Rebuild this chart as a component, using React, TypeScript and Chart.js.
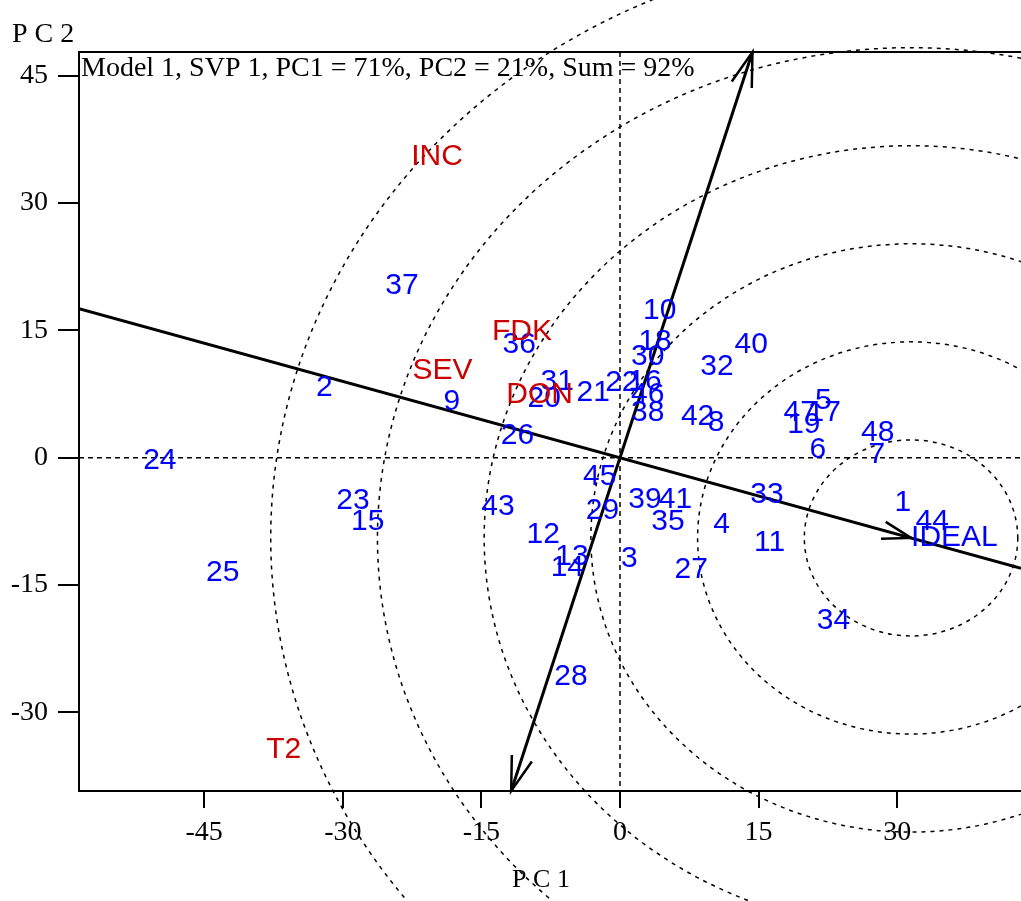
import React, { useEffect, useRef } from "react";
import { Chart, registerables } from "chart.js";

Chart.register(...registerables);

// ---- Data ----
const genotypeLabels = [
  "1", "2", "3", "4", "5", "6", "7", "8", "9", "10", "11", "12", "13", "14", "15", "16",
  "17", "18", "19", "20", "21", "22", "23", "24", "25", "26", "27", "28", "29", "30", "31", "32",
  "33", "34", "35", "36", "37", "38", "39", "40", "41", "42", "43", "44", "45", "46", "47", "48",
];
const genotypePC1 = [
  30.6, -32.0, 1.0, 11.0, 22.0, 21.4, 27.8, 10.4, -18.2, 4.3, 16.2, -8.3, -5.2, -5.7, -27.3, 2.7,
  22.1, 3.8, 19.9, -8.2, -2.9, 0.2, -28.9, -49.8, -43.0, -11.1, 7.7, -5.3, -1.9, 3.0, -6.8, 10.5,
  15.9, 23.1, 5.2, -10.9, -23.6, 3.0, 2.7, 14.2, 6.0, 8.4, -13.2, 33.8, -2.2, 3.0, 19.5, 27.9,
];
const genotypePC2 = [
  -5.3, 8.2, -11.9, -7.9, 6.7, 0.9, 0.3, 4.1, 6.6, 17.3, -10.0, -9.1, -11.7, -13.0, -7.6, 9.0,
  5.3, 13.7, 3.9, 7.0, 7.7, 8.8, -5.1, -0.3, -13.5, 2.6, -13.2, -25.8, -6.2, 11.9, 8.9, 10.7,
  -4.4, -19.2, -7.5, 13.3, 20.2, 5.3, -5.0, 13.3, -4.9, 4.8, -5.8, -7.5, -2.3, 7.4, 5.3, 3.0,
];

const traitLabels = ["INC", "FDK", "SEV", "DON", "T2"];
const traitPC1 = [-19.8, -10.6, -19.2, -8.7, -36.4];
const traitPC2 = [35.5, 14.8, 10.3, 7.4, -34.4];

const idealLabels = ["IDEAL"];
const idealPC1 = [31.5];
const idealPC2 = [-9.45];

const ringRadii = [11.55, 23.1, 34.65, 46.2, 57.75, 69.3];

const xTickValues = [-45, -30, -15, 0, 15, 30];
const xTickLabels = ["-45", "-30", "-15", "0", "15", "30"];
const yTickValues = [-30, -15, 0, 15, 30, 45];
const yTickLabels = ["-30", "-15", "0", "15", "30", "45"];

const titleText = "Model 1, SVP 1, PC1 = 71%, PC2 = 21%, Sum = 92%";
const xTitle = "P C 1";
const yTitle = "P C 2";

const X_MIN = -58.55;
const X_MAX = 43.4;
const Y_MIN = -39.26;
const Y_MAX = 47.79;

const SERIF = '"Liberation Serif", "Times New Roman", serif';
const SANS = '"Liberation Sans", Arial, sans-serif';

function arrowHead(ctx: CanvasRenderingContext2D, tipX: number, tipY: number, fromX: number, fromY: number, len: number, ang: number) {
  const a = Math.atan2(tipY - fromY, tipX - fromX);
  ctx.beginPath();
  ctx.moveTo(tipX - len * Math.cos(a - ang), tipY - len * Math.sin(a - ang));
  ctx.lineTo(tipX, tipY);
  ctx.lineTo(tipX - len * Math.cos(a + ang), tipY - len * Math.sin(a + ang));
  ctx.stroke();
}

const biplotPlugin = {
  id: "gge-biplot",
  beforeDatasetsDraw(chart: any) {
    const { ctx, chartArea: a, scales } = chart;
    const xs = scales.x;
    const ys = scales.y;
    const px = (v: number) => xs.getPixelForValue(v);
    const py = (v: number) => ys.getPixelForValue(v);

    // concentric circles around the ideal point (not clipped)
    ctx.save();
    ctx.strokeStyle = "#000";
    ctx.lineWidth = 1.5;
    ctx.setLineDash([4, 5]);
    const cx = px(idealPC1[0]);
    const cy = py(idealPC2[0]);
    ringRadii.forEach((r) => {
      const rx = Math.abs(px(idealPC1[0] + r) - cx);
      const ry = Math.abs(py(idealPC2[0] + r) - cy);
      ctx.beginPath();
      ctx.ellipse(cx, cy, rx, ry, 0, 0, Math.PI * 2);
      ctx.stroke();
    });
    ctx.restore();

    // clipped area items
    ctx.save();
    ctx.beginPath();
    ctx.rect(a.left, a.top, a.right - a.left, a.bottom - a.top);
    ctx.clip();
    ctx.strokeStyle = "#000";
    ctx.lineWidth = 1.5;
    ctx.setLineDash([5, 4]);
    ctx.beginPath();
    ctx.moveTo(a.left, py(0));
    ctx.lineTo(a.right, py(0));
    ctx.moveTo(px(0), a.top);
    ctx.lineTo(px(0), a.bottom);
    ctx.stroke();

    // AEC abscissa through origin and ideal point
    ctx.setLineDash([]);
    ctx.lineWidth = 3;
    const ix = idealPC1[0];
    const iy = idealPC2[0];
    const l1 = { x: X_MIN, y: (iy / ix) * X_MIN };
    const l2 = { x: X_MAX, y: (iy / ix) * X_MAX };
    ctx.beginPath();
    ctx.moveTo(px(l1.x), py(l1.y));
    ctx.lineTo(px(l2.x), py(l2.y));
    ctx.stroke();

    // AEC ordinate (perpendicular)
    const dx = -iy;
    const dy = ix;
    const t1 = { x: (dx / dy) * Y_MAX, y: Y_MAX };
    const t2 = { x: (dx / dy) * Y_MIN, y: Y_MIN };
    ctx.beginPath();
    ctx.moveTo(px(t2.x), py(t2.y));
    ctx.lineTo(px(t1.x), py(t1.y));
    ctx.stroke();
    ctx.restore();

    // arrowheads
    ctx.save();
    ctx.strokeStyle = "#000";
    ctx.lineWidth = 2.5;
    const ang = (17 * Math.PI) / 180;
    arrowHead(ctx, cx, cy, px(0), py(0), 30, ang);
    arrowHead(ctx, px(t1.x), py(t1.y), px(0), py(0), 36, ang);
    arrowHead(ctx, px(t2.x), py(t2.y), px(0), py(0), 36, ang);

    // top frame line
    ctx.lineWidth = 2;
    ctx.beginPath();
    ctx.moveTo(a.left, a.top);
    ctx.lineTo(a.right, a.top);
    ctx.stroke();
    ctx.restore();
  },
  afterDatasetsDraw(chart: any) {
    const { ctx } = chart;
    ctx.save();
    chart.data.datasets.forEach((ds: any, di: number) => {
      const meta = chart.getDatasetMeta(di);
      ctx.font = `30px ${SANS}`;
      ctx.fillStyle = ds.labelColor;
      ctx.textAlign = ds.labelAlign;
      ctx.textBaseline = "middle";
      meta.data.forEach((pt: any, i: number) => {
        ctx.fillText(ds.pointLabels[i], pt.x, pt.y);
      });
    });

    // title and axis titles
    ctx.fillStyle = "#000";
    ctx.textBaseline = "alphabetic";
    ctx.textAlign = "left";
    ctx.font = `28px ${SERIF}`;
    ctx.fillText(titleText, 81, 76);
    ctx.fillText(yTitle, 12, 42);
    ctx.font = `26px ${SERIF}`;
    ctx.textAlign = "center";
    ctx.fillText(xTitle, 541, 887);
    ctx.restore();
  },
};

export default function App() {
  const ref = useRef<HTMLCanvasElement>(null);
  useEffect(() => {
    const canvas = ref.current;
    if (!canvas) return;
    const chart = new Chart(canvas, {
      type: "scatter",
      data: {
        datasets: [
          {
            label: "Genotypes",
            data: genotypePC1.map((v, i) => ({ x: v, y: genotypePC2[i] })),
            pointRadius: 0,
            pointLabels: genotypeLabels,
            labelColor: "#0000ff",
            labelAlign: "center",
          } as any,
          {
            label: "Traits",
            data: traitPC1.map((v, i) => ({ x: v, y: traitPC2[i] })),
            pointRadius: 0,
            pointLabels: traitLabels,
            labelColor: "#cc0000",
            labelAlign: "center",
          } as any,
          {
            label: "Ideal",
            data: idealPC1.map((v, i) => ({ x: v, y: idealPC2[i] })),
            pointRadius: 0,
            pointLabels: idealLabels,
            labelColor: "#0000ff",
            labelAlign: "left",
          } as any,
        ],
      },
      options: {
        responsive: false,
        animation: false,
        events: [],
        layout: { padding: { top: 52, right: 0, bottom: 0, left: 0 } },
        plugins: {
          legend: { display: false },
          tooltip: { enabled: false },
          title: { display: false },
        },
        scales: {
          x: {
            type: "linear",
            min: X_MIN,
            max: X_MAX,
            afterBuildTicks: (s: any) => {
              s.ticks = xTickValues.map((v) => ({ value: v }));
            },
            afterFit: (s: any) => {
              s.height = 110;
            },
            grid: {
              display: true,
              drawOnChartArea: false,
              drawTicks: true,
              tickLength: 17,
              color: "#000",
              lineWidth: 2,
            },
            border: { display: true, color: "#000", width: 2 },
            ticks: {
              autoSkip: false,
              maxRotation: 0,
              padding: 8,
              color: "#000",
              font: { family: SERIF, size: 28 },
              callback: (v: any) => xTickLabels[xTickValues.indexOf(Number(v))] ?? "",
            },
          },
          y: {
            type: "linear",
            min: Y_MIN,
            max: Y_MAX,
            afterBuildTicks: (s: any) => {
              s.ticks = yTickValues.map((v) => ({ value: v }));
            },
            afterFit: (s: any) => {
              s.width = 79;
            },
            grid: {
              display: true,
              drawOnChartArea: false,
              drawTicks: true,
              tickLength: 21,
              color: "#000",
              lineWidth: 2,
            },
            border: { display: true, color: "#000", width: 2 },
            ticks: {
              autoSkip: false,
              padding: 10,
              color: "#000",
              font: { family: SERIF, size: 28 },
              callback: (v: any) => yTickLabels[yTickValues.indexOf(Number(v))] ?? "",
            },
          },
        },
      } as any,
      plugins: [biplotPlugin],
    });
    return () => chart.destroy();
  }, []);
  return (
    <div style={{ position: "fixed", left: 0, top: 0, width: 1021, height: 901, background: "#fff" }}>
      <canvas ref={ref} width={1021} height={901} style={{ display: "block" }} />
    </div>
  );
}
